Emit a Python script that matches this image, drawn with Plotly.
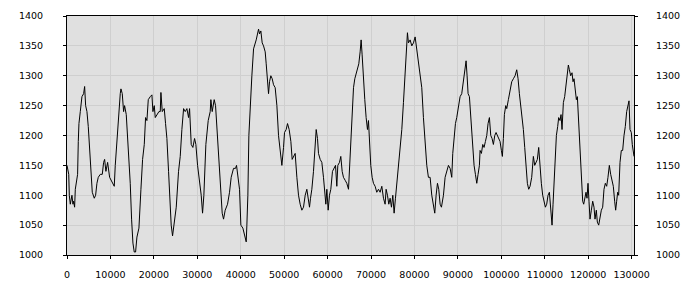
import plotly.graph_objects as go

x_values = [
    0, 400, 530, 760, 1140, 1370, 1520, 1750, 1910, 2140, 2440, 2600, 2750, 3060, 3440, 3830,
    4060, 4290, 4590, 4900, 5050, 5360, 5820, 6280, 6590, 6890, 7200, 7660, 8120, 8430, 8660,
    8960, 9350, 9810, 10190, 10880, 11110, 11340, 11650, 11960, 12260, 12420, 12720, 13030,
    13260, 13640, 13950, 14560, 14870, 15180, 15480, 15790, 16100, 16560, 17020, 17400, 17790,
    18090, 18400, 18710, 19170, 19550, 19780, 20090, 20320, 20700, 21160, 21470, 21620, 21930,
    22390, 22690, 23000, 23380, 23690, 23990, 24300, 24690, 25150, 25680, 26070, 26450, 26840,
    27220, 27600, 27990, 28220, 28600, 28980, 29370, 29670, 30060, 30440, 30900, 31210, 31510,
    31970, 32510, 32970, 33120, 33430, 33890, 34200, 34810, 35270, 35730, 36040, 36420, 36960,
    37420, 37800, 38340, 38800, 39030, 39720,
    40030, 40490, 40950, 41260, 41410, 41640, 41870, 42180, 42560, 42950, 43560, 44100, 44330,
    44630, 44940, 45250, 45630, 45860, 46010, 46400, 46630, 46930, 47240, 47550, 47930, 48320,
    48700, 49080, 49470, 49850, 50080, 50460, 50770, 51150, 51540, 51840, 52150, 52530, 52920,
    53300, 53680, 54070, 54450, 54840, 55220, 55530, 55830, 56060, 56370, 56750, 57140, 57370,
    57670, 57900, 58290, 58670, 59050, 59360, 59590, 59820, 60130, 60430, 60740, 61120, 61510,
    61820, 62120, 62350, 62730, 63040, 63350, 63650, 64040, 64420, 64810, 65040, 65340, 65650,
    65960, 66260, 66570, 66880, 67180, 67490, 67720, 67950, 68260, 68560, 68870, 69180, 69410,
    69640, 69940, 70250, 70560, 70940, 71320, 71710, 72090, 72480, 72860, 73240, 73470, 73780,
    74090, 74390, 74700, 75010, 75310, 75620, 75930, 76310, 76690, 77080, 77460, 77770, 78080,
    78380, 78610, 79000, 79380, 79760, 80150, 80530, 80910, 81300, 81680, 82060, 82450, 82830,
    83210, 83600, 83980, 84360, 84670, 84980, 85290, 85590, 85900, 86210, 86670, 87050, 87430,
    87820, 88200, 88580, 88810, 89120, 89430, 89730, 90120,
    90500, 90880, 91270, 91570, 91880, 92110, 92340, 92650, 92950, 93260, 93490, 93720, 94030,
    94340, 94640, 94950, 95100, 95410, 95720, 96020, 96330, 96640, 96940, 97250, 97560, 97860,
    98170, 98480, 98780, 99090, 99400, 99700, 100010, 100240, 100470, 100700, 101010, 101240,
    101620, 102010, 102390, 102770, 103160, 103540, 103850, 104150, 104460, 104770, 105070,
    105380, 105690, 105990, 106300, 106610, 106990, 107370, 107680, 107990, 108290, 108600,
    108910, 109210, 109520, 109830, 110140, 110440, 110750, 111060, 111360, 111670, 111900,
    112210, 112440, 112670, 112970, 113200, 113510, 113740, 113970, 114280, 114580, 114890,
    115200, 115430, 115660, 115960, 116270, 116500, 116730, 117040, 117270, 117500, 117810,
    118110, 118420, 118730, 118960, 119190, 119490, 119720, 119950, 120180, 120410, 120720,
    121030, 121330, 121560, 121870, 122100, 122410, 122710, 123020, 123330, 123630, 123940,
    124250, 124550, 124860, 125170, 125480, 125780, 126090, 126320, 126550, 126780, 127010,
    127320, 127620, 127930, 128240, 128540, 128850, 129160, 129390, 129620, 129920, 130150,
    130380, 130540,
]

y_values = [
    1150, 1135, 1100, 1085, 1100, 1085, 1090, 1080, 1110, 1120, 1135, 1190, 1220, 1240, 1265, 1270,
    1282, 1250, 1240, 1215, 1195, 1150, 1105, 1095, 1100, 1120, 1130, 1135, 1135, 1155, 1160,
    1140, 1155, 1130, 1125, 1115, 1150, 1175, 1210, 1250, 1270, 1278, 1270, 1240,
    1250, 1235, 1200, 1120, 1060, 1020, 1005, 1005, 1030, 1045, 1110, 1160, 1185,
    1230, 1225, 1260, 1265, 1268, 1240, 1250, 1230, 1235, 1240, 1240, 1272, 1240,
    1245, 1220, 1195, 1140, 1095, 1050, 1032, 1055, 1080, 1140, 1165, 1210, 1245,
    1240, 1245, 1230, 1245, 1185, 1180, 1195, 1185, 1150, 1130, 1100, 1070, 1100,
    1185, 1225, 1240, 1260, 1240, 1260, 1250, 1170, 1110, 1070, 1060, 1075, 1085,
    1105, 1130, 1145, 1145, 1150, 1110,
    1050, 1045, 1030, 1022, 1050, 1100, 1200, 1260, 1300, 1345, 1360, 1378, 1370,
    1375, 1355, 1350, 1340, 1320, 1300, 1270, 1290, 1300, 1295, 1285, 1280, 1250,
    1200, 1170, 1150, 1180, 1205, 1210, 1220, 1210, 1190, 1160, 1165, 1170, 1130,
    1100, 1085, 1075, 1080, 1100, 1110, 1090, 1080, 1095, 1110, 1140, 1180, 1210,
    1195, 1170, 1160, 1155, 1130, 1100, 1085, 1110, 1075, 1100, 1110, 1140, 1145,
    1150, 1115, 1150, 1155, 1165, 1140, 1130, 1125, 1120, 1110, 1150, 1200, 1250,
    1280, 1295, 1305, 1310, 1320, 1340, 1360, 1335, 1290, 1260, 1230, 1210, 1225,
    1180, 1150, 1130, 1120, 1115, 1105, 1110, 1105, 1115, 1095, 1085, 1110, 1100,
    1085, 1095, 1080, 1100, 1070, 1095, 1120, 1140, 1175, 1210, 1255, 1300, 1340,
    1372, 1355, 1360, 1350, 1355, 1365, 1345, 1320, 1300, 1280, 1230, 1190, 1150,
    1130, 1130, 1100, 1080, 1070, 1100, 1120, 1110, 1085, 1080, 1100, 1130, 1140,
    1150, 1145, 1130, 1170, 1200, 1220, 1230, 1245,
    1265, 1270, 1290, 1305, 1325, 1300, 1270, 1265, 1230, 1210, 1185, 1150, 1135,
    1120, 1135, 1150, 1175, 1170, 1185, 1180, 1190, 1200, 1220, 1230, 1200, 1195,
    1185, 1200, 1205, 1200, 1195, 1190, 1175, 1165, 1195, 1235, 1250, 1245,
    1260, 1275, 1290, 1295, 1300, 1310, 1295, 1270, 1250, 1235, 1210,
    1180, 1145, 1120, 1110, 1115, 1130, 1165, 1150, 1155, 1160, 1180,
    1140, 1120, 1100, 1090, 1080, 1085, 1100, 1105, 1075, 1050, 1085,
    1130, 1170, 1200, 1215, 1230, 1225, 1235, 1210, 1255, 1265, 1285,
    1310, 1318, 1310, 1300, 1305, 1290, 1295, 1275, 1260, 1265, 1220,
    1180, 1150, 1090, 1085, 1095, 1105, 1095, 1120, 1090, 1060, 1075,
    1090, 1080, 1060, 1075, 1055, 1050, 1065, 1075, 1080, 1110, 1120,
    1115, 1130, 1150, 1135, 1125, 1115, 1090, 1075, 1090, 1105, 1100,
    1155, 1175, 1175, 1200, 1215, 1240, 1255, 1258, 1210, 1205, 1185,
    1175, 1165,
]

x_ticks = [0, 10000, 20000, 30000, 40000, 50000, 60000, 70000, 80000, 90000,
           100000, 110000, 120000, 130000]
y_ticks = [1000, 1050, 1100, 1150, 1200, 1250, 1300, 1350, 1400]

font = dict(family="DejaVu Sans", size=9.5, color="#000000")

fig = go.Figure()
fig.add_trace(go.Scatter(
    x=x_values, y=y_values, mode="lines",
    line=dict(color="#000000", width=1), showlegend=False, hoverinfo="skip",
))
# same series bound to the right-hand axis (transparent) so that axis is drawn
fig.add_trace(go.Scatter(
    x=x_values, y=y_values, mode="lines", yaxis="y2", opacity=0,
    line=dict(color="#000000", width=1), showlegend=False, hoverinfo="skip",
))

axis_common = dict(
    showline=True, linecolor="#000000", linewidth=1,
    ticks="outside", ticklen=3, tickcolor="#000000",
    tickfont=font, zeroline=False,
)

fig.update_layout(
    width=700, height=300,
    margin=dict(l=67, r=66, t=10, b=45),
    paper_bgcolor="#ffffff", plot_bgcolor="#e0e0e0",
    xaxis=dict(range=[0, 130540], tickvals=x_ticks, ticktext=[str(v) for v in x_ticks],
               showgrid=True, gridcolor="#cfcfcf", gridwidth=1, mirror=True,
               ticklabelstandoff=8, **axis_common),
    yaxis=dict(range=[1000, 1400], tickvals=y_ticks, ticktext=[str(v) for v in y_ticks],
               showgrid=True, gridcolor="#cfcfcf", gridwidth=1,
               ticklabelstandoff=18, **axis_common),
    yaxis2=dict(range=[1000, 1400], tickvals=y_ticks, ticktext=[str(v) for v in y_ticks],
                overlaying="y", side="right", showgrid=False,
                ticklabelstandoff=16, **axis_common),
)

fig.write_html("out.html")
